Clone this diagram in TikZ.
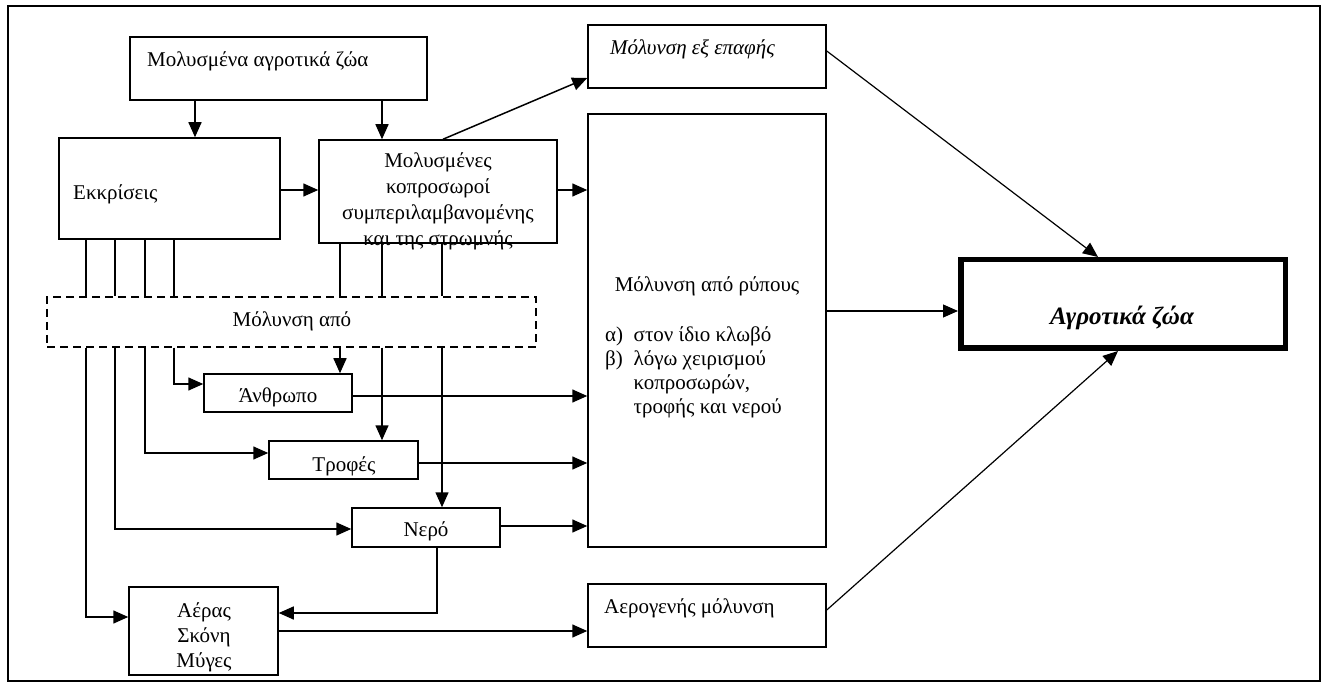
\documentclass[tikz,border=0pt]{standalone}
\usepackage{fontspec}
\setmainfont{Liberation Serif}
\usetikzlibrary{arrows.meta}
\tikzset{
  bx/.style={draw, line width=1.5pt, inner sep=0pt},
  dbx/.style={draw, line width=1.5pt, inner sep=0pt, dash pattern=on 8pt off 5pt},
  tx/.style={inner sep=0pt, font=\fontsize{21}{25.5}\selectfont},
  ln/.style={line width=1.5pt},
  arr/.style={line width=1.5pt, -{Triangle[length=15pt,width=13pt]}},
  tarr/.style={line width=1.2pt, -{Triangle[length=15pt,width=13pt]}},
}
\begin{document}
\begin{tikzpicture}[x=1pt,y=-1pt]
\useasboundingbox (0,0) rectangle (1322,684);
\draw[line width=2pt] (8,6) rectangle (1320,681);

% helper columns and rows
\foreach \c in {86,115,145,174,195,340,382,437,442,443,1098,1118}{\coordinate (c\c) at (\c,0);}
\foreach \r in {51,78,190,311,384,396,453,463,526,529,610,613,617,631}{\coordinate (r\r) at (0,\r);}

% boxes
\node[bx, minimum width=297pt, minimum height=63pt] (mza) at (278.5,68.5) {};
\node[bx, minimum width=221pt, minimum height=101pt] (ekk) at (169.5,188.5) {};
\node[bx, minimum width=238pt, minimum height=103pt] (kop) at (438,191.5) {};
\node[bx, minimum width=238pt, minimum height=63pt] (epa) at (707,56.5) {};
\node[bx, minimum width=238pt, minimum height=433pt] (ryp) at (707,330.5) {};
\node[dbx, minimum width=489pt, minimum height=50pt] (dash) at (291.5,322) {};
\node[bx, minimum width=148pt, minimum height=38pt] (anth) at (278,393) {};
\node[bx, minimum width=149pt, minimum height=38pt] (trof) at (343.5,460) {};
\node[bx, minimum width=148pt, minimum height=39pt] (nero) at (426,527.5) {};
\node[bx, minimum width=149pt, minimum height=88pt] (aera) at (203.5,631) {};
\node[bx, minimum width=238pt, minimum height=63pt] (aerog) at (707,615.5) {};
\node[draw, line width=5pt, inner sep=0pt, minimum width=325pt, minimum height=89pt] (agr) at (1123,304) {};
\draw[line width=1pt] ([shift={(5pt,-5pt)}]agr.north west) rectangle ([shift={(-5pt,5pt)}]agr.south east);

% texts
\node[tx, anchor=base west] (mzat) at (147,67) {Μολυσμένα αγροτικά ζώα};
\node[tx, anchor=base west] (ekkt) at (73,200) {Εκκρίσεις};
\node[tx, anchor=base] (kopt) at (438,168) {\fontsize{21}{25.7}\selectfont\begin{tabular}[t]{@{}c@{}}Μολυσμένες\\κοπροσωροί\\συμπεριλαμβανομένης\\και της στρωμνής\end{tabular}};
\node[tx, anchor=base west] (epat) at (610,55) {\itshape Μόλυνση εξ επαφής};
\node[tx, anchor=base] (rypt) at (707,292) {Μόλυνση από ρύπους};
\node[tx, anchor=base west] (rypl) at (605,342) {\fontsize{21}{23.7}\selectfont\begin{tabular}[t]{@{}l@{\hspace{10.5pt}}l@{}}α) & στον ίδιο κλωβό\\β) & λόγω χειρισμού\\ & κοπροσωρών,\\ & τροφής και νερού\end{tabular}};
\node[tx, anchor=base] (dasht) at (292,327) {Μόλυνση από};
\node[tx, anchor=base] (antht) at (278,402) {Άνθρωπο};
\node[tx, anchor=base] (troft) at (344,471) {Τροφές};
\node[tx, anchor=base] (nerot) at (426,536) {Νερό};
\node[tx, anchor=base] (aerat) at (204,617) {\fontsize{21}{25}\selectfont\begin{tabular}[t]{@{}c@{}}Αέρας\\Σκόνη\\Μύγες\end{tabular}};
\node[tx, anchor=base west] (aerogt) at (604,613) {Αερογενής μόλυνση};
\node[inner sep=0pt, anchor=base, font=\fontsize{25}{29}\selectfont\bfseries\itshape] (agrt) at (1122,325) {Αγροτικά ζώα};

% connectors
\draw[arr] (c195 |- mza.south) -- (c195 |- ekk.north);
\draw[arr] (c382 |- mza.south) -- (c382 |- kop.north);
\draw[arr] (ekk.east |- r190) -- (kop.west |- r190);
\draw[arr] (c443 |- kop.north) -- (epa.west |- r78);
\draw[arr] (kop.east |- r190) -- (ryp.west |- r190);
\draw[tarr] (epa.east |- r51) -- (c1098 |- agr.north);
\draw[tarr] (ryp.east |- r311) -- (agr.west |- r311);
\draw[tarr] (aerog.east |- r610) -- (c1118 |- agr.south);

\foreach \c in {86,115,145,174}{\draw[ln] (c\c |- ekk.south) -- (c\c |- dash.north);}
\foreach \c in {340,382,442}{\draw[ln] (c\c |- kop.south) -- (c\c |- dash.north);}

\draw[arr] (c174 |- dash.south) |- (anth.west |- r384);
\draw[arr] (c340 |- dash.south) -- (c340 |- anth.north);
\draw[arr] (c382 |- dash.south) -- (c382 |- trof.north);
\draw[arr] (c145 |- dash.south) |- (trof.west |- r453);
\draw[arr] (c442 |- dash.south) -- (c442 |- nero.north);
\draw[arr] (c115 |- dash.south) |- (nero.west |- r529);
\draw[arr] (c86 |- dash.south) |- (aera.west |- r617);
\draw[arr] (c437 |- nero.south) |- (aera.east |- r613);
\draw[arr] (aera.east |- r631) -- (aerog.west |- r631);
\draw[arr] (anth.east |- r396) -- (ryp.west |- r396);
\draw[arr] (trof.east |- r463) -- (ryp.west |- r463);
\draw[arr] (nero.east |- r526) -- (ryp.west |- r526);
\end{tikzpicture}
\end{document}
